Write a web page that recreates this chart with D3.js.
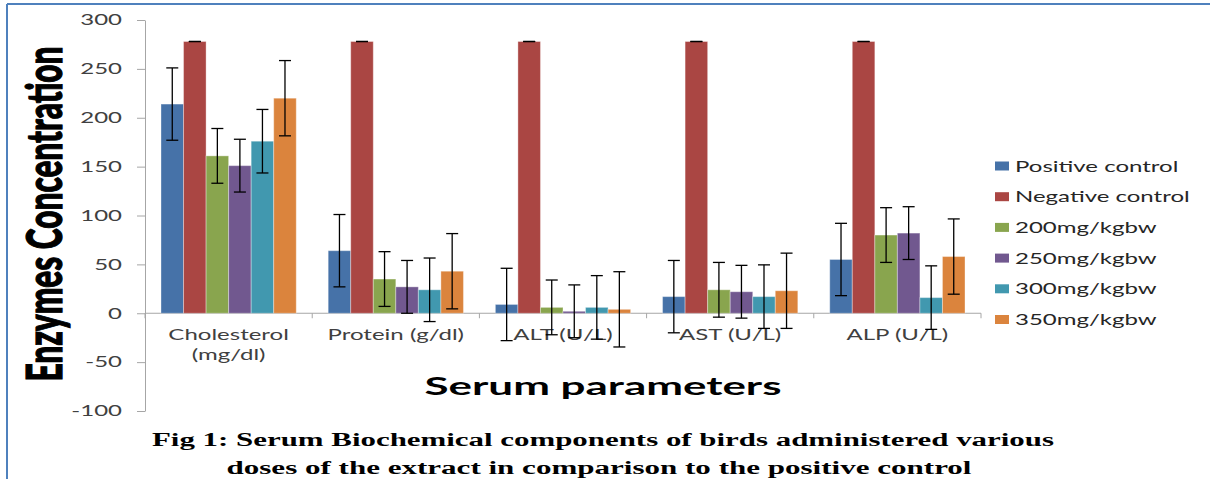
<!DOCTYPE html>
<html>
<head>
<meta charset="utf-8">
<script src="https://cdn.jsdelivr.net/npm/d3@7"></script>
<style>
  body { margin: 0; background: #fff; }
  svg { display: block; }
</style>
</head>
<body>
<svg id="chart" width="1210" height="479"></svg>
<script>
// values
const categories = ['Cholesterol (mg/dl)', 'Protein (g/dl)', 'ALT (U/L)', 'AST (U/L)', 'ALP (U/L)'];
const seriesNames = ['Positive control', 'Negative control', '200mg/kgbw', '250mg/kgbw', '300mg/kgbw', '350mg/kgbw'];
const positive = [214, 64, 9, 17, 55];
const negative = [278, 278, 278, 278, 278];
const dose200 = [161, 35, 6, 24, 80];
const dose250 = [151, 27, 2, 22, 82];
const dose300 = [176, 24, 6, 17, 16];
const dose350 = [220, 43, 4, 23, 58];
const errors = [37, 0, 28, 27, 32.5, 38.5]; // same +/- per series in every group
const yTicks = [-100, -50, 0, 50, 100, 150, 200, 250, 300];

const colors = ['#4672A8', '#AA4643', '#89A54E', '#71588F', '#4198AF', '#DB843D'];
const allSeries = [positive, negative, dose200, dose250, dose300, dose350];
const stretch = 1.6;

const svg = d3.select('#chart');

// stretch text horizontally (the source picture is wide)
function widen(sel, k) {
  sel.each(function () {
    let w = this.getComputedTextLength();
    d3.select(this).attr('textLength', w * k).attr('lengthAdjust', 'spacingAndGlyphs');
  });
}

// frame
svg.append('line').attr('x1', 7).attr('x2', 1210).attr('y1', 4).attr('y2', 4)
  .attr('stroke', '#4F81BD').attr('stroke-width', 2);
svg.append('line').attr('x1', 7).attr('x2', 7).attr('y1', 4).attr('y2', 479)
  .attr('stroke', '#4F81BD').attr('stroke-width', 2);

let x0 = d3.scaleBand().domain(categories).range([145, 981])
  .paddingInner(0.191).paddingOuter(0.0957);
let x1 = d3.scaleBand().domain(d3.range(seriesNames.length)).range([0, x0.bandwidth()]);
let y = d3.scaleLinear().domain([-100, 300]).range([411, 20]);

// y axis
let yAxis = svg.append('g').attr('transform', 'translate(145,0)')
  .call(d3.axisLeft(y).tickValues(yTicks).tickFormat((d) => String(d))
    .tickSize(8).tickPadding(15).tickSizeOuter(0));
yAxis.select('.domain').attr('stroke', '#a6a6a6');
yAxis.selectAll('.tick line').attr('stroke', '#a6a6a6');
yAxis.selectAll('.tick text')
  .attr('font-family', 'Lato, sans-serif').attr('font-size', 15).attr('fill', '#404040');
widen(yAxis.selectAll('.tick text'), stretch);

// x axis along zero
let xAxis = svg.append('g').attr('transform', `translate(0,${y(0)})`);
xAxis.append('line').attr('x1', 145).attr('x2', 981).attr('stroke', '#a6a6a6');
let bounds = categories.map((c) => x0(c) - x0.step() * x0.paddingInner() / 2);
bounds.push(981);
xAxis.selectAll('line.tk').data(bounds).join('line').attr('class', 'tk')
  .attr('x1', (d) => d).attr('x2', (d) => d).attr('y1', 0).attr('y2', 5)
  .attr('stroke', '#a6a6a6');

// category labels, wrap when too long for the slot
categories.forEach((c) => {
  let cx = x0(c) + x0.bandwidth() / 2;
  let t = xAxis.append('text').attr('x', cx).attr('y', 27)
    .attr('text-anchor', 'middle').attr('font-family', 'Lato, sans-serif')
    .attr('font-size', 15).attr('fill', '#404040').text(c);
  if (t.node().getComputedTextLength() * stretch > x0.step()) {
    let words = c.split(' ');
    t.text(words[0]);
    let t2 = xAxis.append('text').attr('x', cx).attr('y', 47)
      .attr('text-anchor', 'middle').attr('font-family', 'Lato, sans-serif')
      .attr('font-size', 15).attr('fill', '#404040').text(words.slice(1).join(' '));
    widen(t2, stretch);
  }
  widen(t, stretch);
});

// bars
let groups = svg.append('g').selectAll('g').data(categories).join('g')
  .attr('transform', (c) => `translate(${x0(c)},0)`);

groups.selectAll('rect')
  .data((c, gi) => allSeries.map((s, si) => ({ si: si, v: s[gi] })))
  .join('rect')
  .attr('x', (d) => x1(d.si))
  .attr('width', x1.bandwidth())
  .attr('y', (d) => y(Math.max(0, d.v)))
  .attr('height', (d) => Math.abs(y(d.v) - y(0)))
  .attr('fill', (d) => colors[d.si])
  .attr('stroke', 'rgba(255,255,255,0.35)')
  .attr('stroke-width', 1);

// error bars
let eb = groups.selectAll('g.err')
  .data((c, gi) => allSeries.map((s, si) => ({ si: si, v: s[gi], e: errors[si] })))
  .join('g').attr('class', 'err')
  .attr('transform', (d) => `translate(${x1(d.si) + x1.bandwidth() / 2},0)`);
eb.append('line').attr('y1', (d) => y(d.v + d.e)).attr('y2', (d) => y(d.v - d.e))
  .attr('stroke', '#000').attr('stroke-width', 1.3);
eb.append('line').attr('x1', -6).attr('x2', 6)
  .attr('y1', (d) => y(d.v + d.e)).attr('y2', (d) => y(d.v + d.e))
  .attr('stroke', '#000').attr('stroke-width', 1.3);
eb.append('line').attr('x1', -6).attr('x2', 6)
  .attr('y1', (d) => y(d.v - d.e)).attr('y2', (d) => y(d.v - d.e))
  .attr('stroke', '#000').attr('stroke-width', 1.3);

// legend
let legend = svg.append('g').attr('transform', 'translate(995,166)');
seriesNames.forEach((name, i) => {
  let row = legend.append('g').attr('transform', `translate(0,${i * 30.7})`);
  row.append('rect').attr('x', 0).attr('y', -4.5).attr('width', 14).attr('height', 9)
    .attr('fill', colors[i]);
  let t = row.append('text').attr('x', 20).attr('y', 5.5)
    .attr('font-family', 'Lato, sans-serif').attr('font-size', 15)
    .attr('fill', '#262626').text(name);
  widen(t, stretch);
});

// axis titles
svg.append('text')
  .attr('transform', 'translate(62,214) rotate(-90)')
  .attr('text-anchor', 'middle')
  .attr('font-family', 'Lato, sans-serif').attr('font-weight', 900)
  .attr('font-size', 49).attr('fill', '#000')
  .attr('stroke', '#000').attr('stroke-width', 1.2)
  .attr('textLength', 335).attr('lengthAdjust', 'spacingAndGlyphs')
  .text('Enzymes Concentration');

svg.append('text').attr('x', 603).attr('y', 395)
  .attr('text-anchor', 'middle')
  .attr('font-family', 'Lato, sans-serif').attr('font-weight', 'bold')
  .attr('font-size', 25).attr('fill', '#000')
  .attr('textLength', 357).attr('lengthAdjust', 'spacingAndGlyphs')
  .text('Serum parameters');

// caption
svg.append('text').attr('x', 603).attr('y', 446)
  .attr('text-anchor', 'middle')
  .attr('font-family', '"Liberation Serif", serif').attr('font-weight', 'bold')
  .attr('font-size', 18).attr('fill', '#000')
  .attr('textLength', 902).attr('lengthAdjust', 'spacingAndGlyphs')
  .text('Fig 1: Serum Biochemical components of birds administered various');
svg.append('text').attr('x', 599).attr('y', 474)
  .attr('text-anchor', 'middle')
  .attr('font-family', '"Liberation Serif", serif').attr('font-weight', 'bold')
  .attr('font-size', 18).attr('fill', '#000')
  .attr('textLength', 745).attr('lengthAdjust', 'spacingAndGlyphs')
  .text('doses of the extract in comparison to the positive control');
</script>
</body>
</html>
